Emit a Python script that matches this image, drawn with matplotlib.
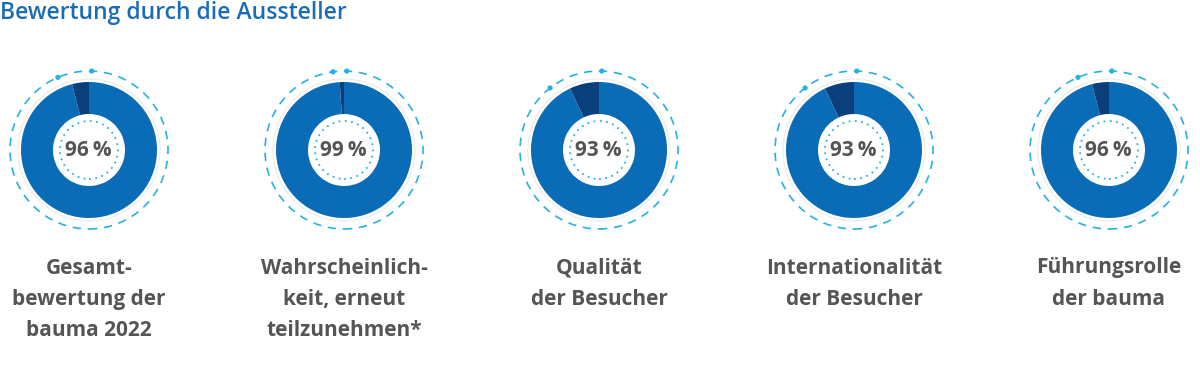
import matplotlib.pyplot as plt
from matplotlib.patches import Circle
import numpy as np

plt.rcParams['font.family'] = ['Open Sans', 'DejaVu Sans']

title = "Bewertung durch die Aussteller"
werte = [96, 99, 93, 93, 96]
labels = ["Gesamt-\nbewertung der\nbauma 2022",
          "Wahrscheinlich-\nkeit, erneut\nteilzunehmen*",
          "Qualität\nder Besucher",
          "Internationalität\nder Besucher",
          "Führungsrolle\nder bauma"]

blau = "#0a6cb6"
dunkel = "#0b3f7c"
cyan = "#27b1e2"
grau = "#555555"

W, H = 1200, 383
fig = plt.figure(figsize=(12, 3.83), dpi=100)
ax = fig.add_axes([0, 0, 1, 1])

cy = H - 150
for i, p in enumerate(werte):
    cx = 89 + i * 255
    ax.pie([p, 100 - p], colors=[blau, dunkel], startangle=90, counterclock=False,
           center=(cx, cy), radius=68, wedgeprops=dict(width=32, linewidth=0))
    # feiner grauer Ring
    ax.add_patch(Circle((cx, cy), 71, fill=False, ec="#eeeeee", lw=1))
    # gestrichelter Aussenkreis
    ax.add_patch(Circle((cx, cy), 79, fill=False, ec=cyan, lw=1.2,
                        linestyle=(0, (5, 4))))
    # gepunkteter Innenkreis
    ax.add_patch(Circle((cx, cy), 29, fill=False, ec=cyan, lw=1.3,
                        linestyle=(0, (1, 2.5))))
    # Markierungspunkte
    for ang in [(100 - p) * 3.6 * 1.4 + 3, -2]:
        a = np.deg2rad(90 + ang)
        ax.add_patch(Circle((cx + 79 * np.cos(a), cy + 79 * np.sin(a)), 2.6,
                            color=cyan, lw=0))
    ax.text(cx - 1, cy, f"{p}\u2009%", ha="center", va="center", fontsize=15,
            fontweight="bold", color=grau)
    for j, zeile in enumerate(labels[i].split("\n")):
        ax.text(cx, H - (268 + j * 31.5), zeile, ha="center", va="center",
                fontsize=15, fontweight="bold", color=grau)

ax.text(0, H - 13, title, ha="left", va="center", fontsize=16.5,
        fontweight="semibold", color="#1a6db5")

ax.set_xlim(0, W)
ax.set_ylim(0, H)
ax.set_aspect("equal")
ax.axis("off")
fig.savefig("out.png", dpi=100)
